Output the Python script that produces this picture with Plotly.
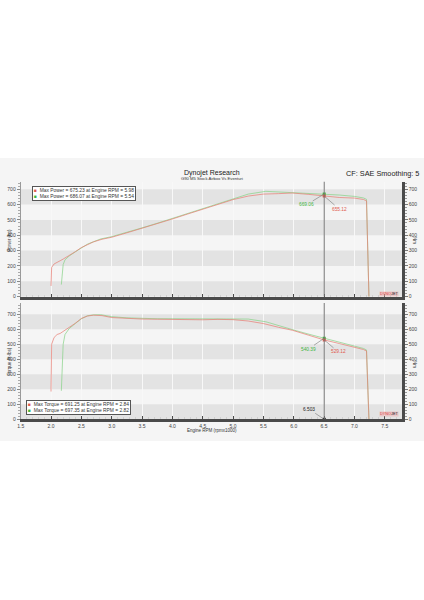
import plotly.graph_objects as go

# ---------------- data ----------------
rpm_red = [2.0, 2.005, 2.01, 2.05, 2.1, 2.15, 2.2, 2.3, 2.4, 2.5, 2.6, 2.7, 2.84, 3.0, 3.25, 3.5, 3.75,
           4.0, 4.25, 4.5, 4.75, 5.0, 5.25, 5.5, 5.75, 5.98, 6.25, 6.5, 6.75, 7.0, 7.15, 7.2, 7.22, 7.24]
power_red = [70, 115, 190, 213, 226, 234, 245, 268, 293, 320, 341, 357, 374, 387, 416, 445, 477,
             506, 538, 568, 603, 632, 655, 668, 671, 675, 666, 655, 646, 642, 633, 624, 344, 0]
torque_red = [185, 300, 500, 545, 565, 572, 585, 612, 640, 672, 688, 694, 691, 678, 672, 668, 667,
              665, 665, 663, 666, 664, 655, 638, 613, 593, 560, 529, 505, 482, 465, 455, 250, 0]

rpm_green = [2.17, 2.18, 2.2, 2.23, 2.27, 2.3, 2.4, 2.5, 2.6, 2.7, 2.82, 3.0, 3.25, 3.5, 3.75, 4.0,
             4.25, 4.5, 4.75, 5.0, 5.25, 5.54, 5.75, 6.0, 6.25, 6.5, 6.75, 7.0, 7.15, 7.2, 7.22, 7.24]
power_green = [79, 137, 209, 240, 255, 265, 292, 319, 342, 358, 376, 391, 418, 448, 478, 510,
               543, 576, 608, 640, 668, 686, 682, 678, 674, 669, 662, 653, 643, 634, 344, 0]
torque_green = [190, 330, 500, 565, 590, 605, 638, 670, 690, 696, 697, 684, 676, 672, 670, 670,
                670, 672, 673, 672, 668, 650, 623, 595, 567, 540, 515, 490, 472, 462, 250, 0]

cursor_rpm = 6.503
cursor_power_green = 669.06
cursor_power_red = 655.12
cursor_torque_green = 540.39
cursor_torque_red = 529.12

legend_power = ["Max Power = 675.23 at Engine RPM = 5.98", "Max Power = 686.07 at Engine RPM = 5.54"]
legend_torque = ["Max Torque = 691.25 at Engine RPM = 2.84", "Max Torque = 697.35 at Engine RPM = 2.82"]

x_ticks = [1.5, 2.0, 2.5, 3.0, 3.5, 4.0, 4.5, 5.0, 5.5, 6.0, 6.5, 7.0, 7.5]
x_ticktext = ["1.5", "2.0", "2.5", "3.0", "3.5", "4.0", "4.5", "5.0", "5.5", "6.0", "6.5", "7.0", "7.5"]
y_ticks = [0, 100, 200, 300, 400, 500, 600, 700]

title_text = "Dynojet Research"
subtitle_text = "G90 M5 Stock Airbox Vs Eventuri"
cf_text = "CF: SAE Smoothing: 5"

# ---------------- styling ----------------
W, H = 424, 600
RED = "rgba(232,125,115,0.8)"
GREEN = "rgba(135,210,135,0.8)"
RED_T = "#e05a50"
GREEN_T = "#3fb53f"
FONT = "Liberation Sans"

def px(x):
    return x / W

def py(y):
    return 1 - y / H

xdom = [px(20.7), px(402)]
top_dom = [py(296.7), py(181.5)]
bot_dom = [py(419.3), py(303)]
xr = [1.5, 7.785]
top_r = [0, 750]
bot_r = [0, 775]

fig = go.Figure()

LW = 0.9
fig.add_trace(go.Scatter(x=rpm_green, y=power_green, mode="lines", line=dict(color=GREEN, width=LW),
                         xaxis="x", yaxis="y", showlegend=False, hoverinfo="skip"))
fig.add_trace(go.Scatter(x=rpm_red, y=power_red, mode="lines", line=dict(color=RED, width=LW),
                         xaxis="x", yaxis="y", showlegend=False, hoverinfo="skip"))
fig.add_trace(go.Scatter(x=rpm_green, y=torque_green, mode="lines", line=dict(color=GREEN, width=LW),
                         xaxis="x2", yaxis="y2", showlegend=False, hoverinfo="skip"))
fig.add_trace(go.Scatter(x=rpm_red, y=torque_red, mode="lines", line=dict(color=RED, width=LW),
                         xaxis="x2", yaxis="y2", showlegend=False, hoverinfo="skip"))

for yv, col, xa, ya in [(cursor_power_green, GREEN_T, "x", "y"), (cursor_power_red, RED_T, "x", "y"),
                        (cursor_torque_green, GREEN_T, "x2", "y2"), (cursor_torque_red, RED_T, "x2", "y2")]:
    fig.add_trace(go.Scatter(x=[cursor_rpm], y=[yv], mode="markers",
                             marker=dict(symbol="square", size=3, color=col),
                             xaxis=xa, yaxis=ya, showlegend=False, hoverinfo="skip"))
fig.add_trace(go.Scatter(x=[cursor_rpm], y=[0], mode="markers",
                         marker=dict(symbol="square", size=3, color="#111"),
                         xaxis="x2", yaxis="y2", showlegend=False, hoverinfo="skip",
                         cliponaxis=False))

fig.add_trace(go.Scatter(x=[None], y=[None], xaxis="x", yaxis="y3", showlegend=False, hoverinfo="skip"))
fig.add_trace(go.Scatter(x=[None], y=[None], xaxis="x2", yaxis="y4", showlegend=False, hoverinfo="skip"))

tickfont = dict(family=FONT, size=5, color="#444")

common_x = dict(range=xr, domain=xdom, tickvals=x_ticks, ticktext=x_ticktext, showgrid=True,
                gridcolor="#f8f8f8", gridwidth=1, zeroline=False, showline=True, linecolor="#4a4a4a",
                linewidth=3, ticks="inside", ticklen=3, tickcolor="#4a4a4a", automargin=False,
                minor=dict(dtick=0.1, ticklen=2, ticks="inside", tickcolor="#cfcfcf", showgrid=False),
                tickfont=tickfont, fixedrange=True)
common_yl = dict(tickvals=y_ticks, showgrid=False, zeroline=False, showline=True, linecolor="#9a9a9a",
                 linewidth=1, ticks="outside", ticklen=3, tickcolor="#888", automargin=False,
                 minor=dict(dtick=20, ticklen=2, ticks="outside", tickcolor="#aaa"),
                 tickfont=tickfont, fixedrange=True)
common_yr = dict(tickvals=y_ticks, showgrid=False, zeroline=False, showline=True, linecolor="#4a4a4a",
                 linewidth=2.5, ticks="outside", ticklen=3, tickcolor="#777", side="right",
                 automargin=False,
                 minor=dict(dtick=20, ticklen=2, ticks="outside", tickcolor="#999"),
                 tickfont=tickfont, fixedrange=True)

fig.update_layout(
    width=W, height=H,
    margin=dict(l=0, r=0, t=0, b=0, autoexpand=False),
    paper_bgcolor="white",
    plot_bgcolor="#efefef",
    font=dict(family=FONT, color="#333"),
    xaxis=dict(common_x, anchor="y", showticklabels=False),
    yaxis=dict(common_yl, domain=top_dom, range=top_r, anchor="x"),
    yaxis3=dict(common_yr, domain=top_dom, range=top_r, anchor="x", overlaying="y"),
    xaxis2=dict(common_x, anchor="y2", showticklabels=True),
    yaxis2=dict(common_yl, domain=bot_dom, range=bot_r, anchor="x2"),
    yaxis4=dict(common_yr, domain=bot_dom, range=bot_r, anchor="x2", overlaying="y2"),
)

shapes = []
shapes.append(dict(type="rect", xref="paper", yref="paper", x0=0, x1=1, y0=py(441), y1=py(158),
                   fillcolor="#f5f5f5", line=dict(width=0), layer="below"))
for lo in [0, 200, 400, 600]:
    shapes.append(dict(type="rect", xref="x", yref="y", x0=xr[0], x1=xr[1], y0=lo, y1=lo + 100,
                       fillcolor="#e3e3e3", line=dict(width=0), layer="below"))
    shapes.append(dict(type="rect", xref="x2", yref="y2", x0=xr[0], x1=xr[1], y0=lo, y1=lo + 100,
                       fillcolor="#e3e3e3", line=dict(width=0), layer="below"))
shapes.append(dict(type="line", xref="x", yref="y", x0=cursor_rpm, x1=cursor_rpm, y0=top_r[0], y1=top_r[1],
                   line=dict(color="#777", width=1)))
shapes.append(dict(type="line", xref="x2", yref="y2", x0=cursor_rpm, x1=cursor_rpm, y0=bot_r[0], y1=bot_r[1],
                   line=dict(color="#777", width=1)))
fig.update_layout(shapes=shapes)

ann = []
ann.append(dict(text=title_text, x=px(212), y=py(167), xref="paper", yref="paper", showarrow=False,
                font=dict(size=7, color="#222", family=FONT)))
ann.append(dict(text=subtitle_text, x=px(212), y=py(174.5), xref="paper", yref="paper", showarrow=False,
                font=dict(size=4.2, color="#333", family=FONT)))
ann.append(dict(text=cf_text, x=px(421), y=py(167), xref="paper", yref="paper", showarrow=False,
                xanchor="right", font=dict(size=7.3, color="#222", family=FONT)))

ann.append(dict(text="Power (hp)", x=px(4), y=py(240), xref="paper", yref="paper", showarrow=False,
                textangle=-90, font=dict(size=4.5, color="#333", family=FONT)))
ann.append(dict(text="Torque (ft-lbs)", x=px(4), y=py(362), xref="paper", yref="paper", showarrow=False,
                textangle=-90, font=dict(size=4.5, color="#333", family=FONT)))
ann.append(dict(text="Nm", x=px(419.5), y=py(240), xref="paper", yref="paper", showarrow=False,
                textangle=90, font=dict(size=4.5, color="#333", family=FONT)))
ann.append(dict(text="Nm", x=px(419.5), y=py(364), xref="paper", yref="paper", showarrow=False,
                textangle=90, font=dict(size=4.5, color="#333", family=FONT)))
ann.append(dict(text="Engine RPM (rpmx1000)", x=px(212), y=py(435), xref="paper", yref="paper",
                showarrow=False, font=dict(size=4.5, color="#333", family=FONT)))

def legend_box(lines, x, y):
    txt = (f"<span style='color:{RED_T}'>■</span>  {lines[0]}<br>"
           f"<span style='color:{GREEN_T}'>■</span>  {lines[1]}")
    return dict(text=txt, x=px(x), y=py(y), xref="paper", yref="paper", showarrow=False,
                xanchor="left", yanchor="top", align="left", bgcolor="white",
                bordercolor="#555", borderwidth=1, borderpad=1,
                font=dict(size=4.9, color="#333", family=FONT))

ann.append(legend_box(legend_power, 32, 186))
ann.append(legend_box(legend_torque, 25.5, 399.5))

def val_label(txt, x, y, xa, ya, ax, ay, color):
    return dict(text=txt, x=x, y=y, xref=xa, yref=ya, ax=ax, ay=ay, showarrow=True,
                arrowhead=0, arrowwidth=0.6, arrowcolor="#777", standoff=1,
                font=dict(size=4.8, color=color, family=FONT))

ann.append(val_label(f"{cursor_power_green:.2f}", cursor_rpm, cursor_power_green, "x", "y", -18, 11, GREEN_T))
ann.append(val_label(f"{cursor_power_red:.2f}", cursor_rpm, cursor_power_red, "x", "y", 15, 13, RED_T))
ann.append(val_label(f"{cursor_torque_green:.2f}", cursor_rpm, cursor_torque_green, "x2", "y2", -16, 11, GREEN_T))
ann.append(val_label(f"{cursor_torque_red:.2f}", cursor_rpm, cursor_torque_red, "x2", "y2", 14, 12, RED_T))
ann.append(val_label(f"{cursor_rpm:.3f}", cursor_rpm, 0, "x2", "y2", -15, -10, "#222"))

for yy in [294.0, 416.6]:
    ann.append(dict(text="<span style='color:#e04545'>DYNO</span>JET", x=px(399), y=py(yy),
                    xref="paper", yref="paper", showarrow=False, xanchor="right",
                    bgcolor="rgba(240,170,170,0.5)", borderpad=0,
                    font=dict(size=3.8, color="#222", family=FONT)))

fig.update_layout(annotations=ann)

# remove the default 8px page margin so the figure sits at the window's top-left corner
fig.write_html("out.html", config={"displayModeBar": False},
               post_script="document.body.style.margin='0';")
